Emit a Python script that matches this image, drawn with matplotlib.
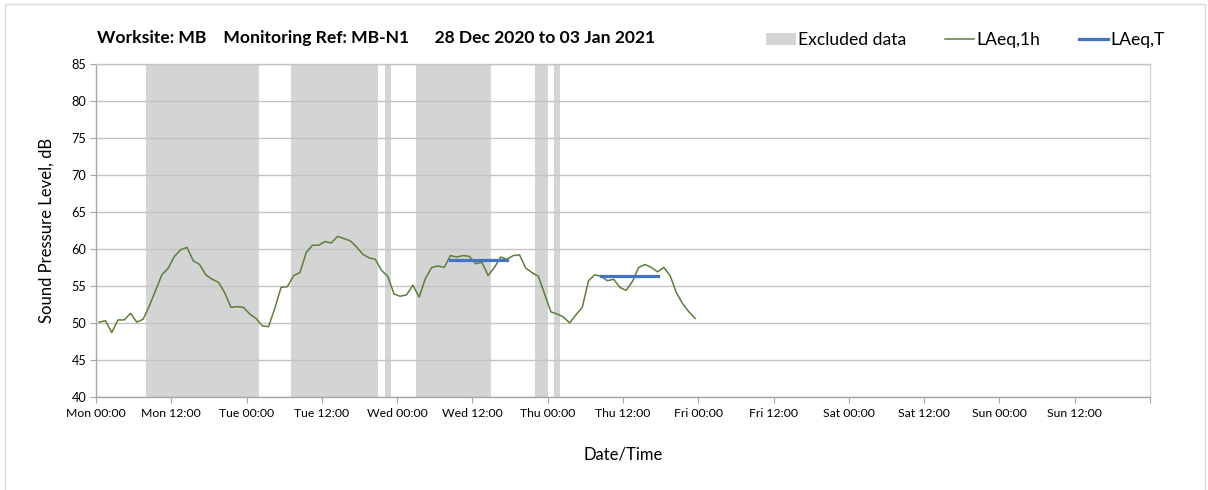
import matplotlib.pyplot as plt
from matplotlib.patches import Rectangle, Patch
from matplotlib.lines import Line2D
from matplotlib.ticker import MultipleLocator

plt.rcParams['font.family'] = ['Lato', 'DejaVu Sans']

# hourly LAeq,1h values, from Mon 00:00 (hours since start)
laeq_1h = [50.1, 50.3, 48.7, 50.4, 50.4, 51.3, 50.1, 50.5, 52.3, 54.4,
           56.5, 57.4, 59.0, 59.9, 60.2, 58.4, 57.9, 56.5, 55.9, 55.5,
           54.1, 52.1, 52.2, 52.1, 51.2, 50.6, 49.6, 49.5, 52.0, 54.8,
           54.9, 56.4, 56.8, 59.5, 60.5, 60.5, 61.0, 60.8, 61.7, 61.4,
           61.1, 60.3, 59.3, 58.8, 58.6, 57.1, 56.3, 53.9, 53.6, 53.8,
           55.1, 53.5, 56.0, 57.5, 57.7, 57.5, 59.1, 58.9, 59.1, 59.0,
           58.0, 58.2, 56.4, 57.5, 58.9, 58.6, 59.1, 59.2, 57.4, 56.8,
           56.3, 53.9, 51.5, 51.2, 50.8, 50.0, 51.1, 52.1, 55.7, 56.5,
           56.3, 55.7, 55.9, 54.8, 54.4, 55.6, 57.5, 57.9, 57.5, 56.9,
           57.5, 56.4, 54.1, 52.6, 51.5, 50.6]
hours = [h + 0.5 for h in range(len(laeq_1h))]

# excluded periods (start hour, end hour)
excluded = [(8, 26), (31, 45), (46, 47), (51, 63), (70, 72), (73, 74)]

# LAeq,T periods (start hour, end hour, level)
laeq_t = [(56.5, 65.5, 58.5), (80.5, 89.5, 56.4)]

days = ['Mon', 'Tue', 'Wed', 'Thu', 'Fri', 'Sat', 'Sun']
tick_labels = []
for d in days:
    tick_labels += [d + ' 00:00', d + ' 12:00']
tick_labels.append('')

fig = plt.figure(figsize=(12.08, 4.9), dpi=100)
ax = fig.add_axes([0.0795, 0.19, 0.8725, 0.6795])

for s, e in excluded:
    ax.axvspan(s, e, color='#d4d4d4', lw=0, zorder=0.3)

ax.plot(hours, laeq_1h, color='#5b7f3a', lw=1.1, zorder=3)
for s, e, v in laeq_t:
    ax.plot([s, e], [v, v], color='#4472c4', lw=2.3, zorder=4)

ax.set_xlim(0, 168)
ax.set_ylim(40, 85)
ax.set_xticks(range(0, 169, 12))
ax.set_xticklabels(tick_labels, fontsize=8.8)
ax.xaxis.set_minor_locator(MultipleLocator(24))
ax.yaxis.set_major_locator(MultipleLocator(5))
ax.tick_params(axis='y', labelsize=9.2, length=4, color='#a6a6a6', pad=3)
ax.tick_params(axis='x', which='major', length=4, color='#a6a6a6', pad=4)
ax.tick_params(axis='x', which='minor', length=0)

ax.set_axisbelow(True)
ax.grid(axis='y', which='major', color='#c4c4c4', lw=1)
ax.grid(axis='x', which='minor', color='#d6d6d6', lw=1)
for sp in ax.spines.values():
    sp.set_color('#a6a6a6')
    sp.set_linewidth(1)
ax.spines['top'].set_color('#c4c4c4')
ax.spines['right'].set_color('#d6d6d6')

ax.set_ylabel('Sound Pressure Level, dB', fontsize=12, labelpad=12)
ax.set_xlabel('Date/Time', fontsize=12, labelpad=20)

fig.text(0.080, 0.922, 'Worksite: MB    Monitoring Ref: MB-N1      28 Dec 2020 to 03 Jan 2021',
         fontsize=12.6, fontweight='bold', ha='left', va='center')

handles = [Patch(facecolor='#d4d4d4', edgecolor='none'),
           Line2D([], [], color='#5b7f3a', lw=1.1),
           Line2D([], [], color='#4472c4', lw=2.3)]
fig.legend(handles, ['Excluded data', 'LAeq,1h', 'LAeq,T'],
           loc='center right', bbox_to_anchor=(0.977, 0.918), ncol=3,
           frameon=False, fontsize=12.6, handlelength=1.7, handletextpad=0.1,
           columnspacing=2.2)

fig.patches.append(Rectangle((5 / 1208, -0.01), 1200 / 1208, 1 - 4 / 490 + 0.01,
                             transform=fig.transFigure, fill=False,
                             edgecolor='#d9d9d9', lw=1))

fig.savefig('out.png', dpi=100)
